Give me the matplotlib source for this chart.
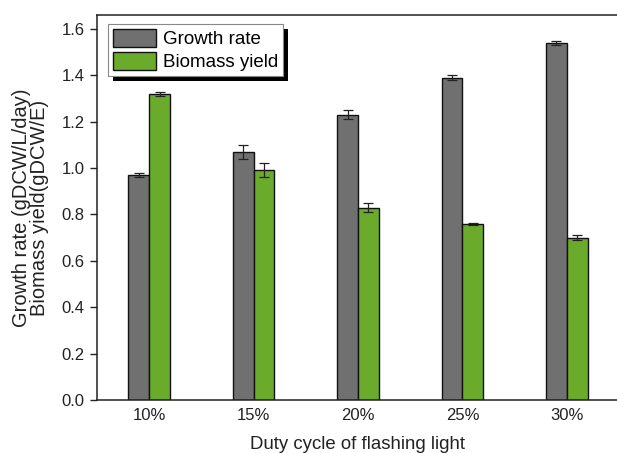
import matplotlib
matplotlib.use('Agg')
import matplotlib.pyplot as plt
import matplotlib.patches as patches
import numpy as np

plt.rcParams['font.family'] = ['Liberation Sans', 'DejaVu Sans']

# --- Data ---
duty_cycles = ['10%', '15%', '20%', '25%', '30%']
growth_rate = [0.97, 1.07, 1.23, 1.39, 1.54]
growth_err = [0.01, 0.03, 0.02, 0.01, 0.01]
biomass_yield = [1.32, 0.99, 0.83, 0.76, 0.70]
biomass_err = [0.01, 0.03, 0.02, 0.005, 0.01]

GRAY = '#707070'
GREEN = '#6aab2b'

fig = plt.figure(figsize=(6.17, 4.53), dpi=100)
ax = fig.add_axes([97 / 617, 1 - 400 / 453, 522 / 617, 385 / 453])

x = np.arange(len(duty_cycles))
w = 0.2
err_kw = dict(ecolor='#222222', elinewidth=0.9, capsize=3.5, capthick=0.9)
ax.bar(x - w / 2, growth_rate, w, yerr=growth_err, color=GRAY,
       edgecolor='#111111', linewidth=1.0, label='Growth rate',
       error_kw=err_kw)
ax.bar(x + w / 2, biomass_yield, w, yerr=biomass_err, color=GREEN,
       edgecolor='#111111', linewidth=1.0, label='Biomass yield',
       error_kw=err_kw)

ax.set_xlim(-0.5, 4.5)
ax.set_ylim(0, 1.66)
ax.set_yticks(np.arange(0, 1.61, 0.2))
ax.set_yticklabels([f'{v:.1f}' for v in np.arange(0, 1.61, 0.2)])
ax.set_xticks(x)
ax.set_xticklabels(duty_cycles)
ax.tick_params(axis='y', direction='out', length=5, width=1.0, labelsize=12,
               pad=4, colors='#222222')
ax.tick_params(axis='x', length=0, labelsize=12, pad=6, colors='#222222')
ax.spines['right'].set_visible(False)
for s in ('left', 'bottom', 'top'):
    ax.spines[s].set_linewidth(1.1)
    ax.spines[s].set_color('#222222')

ax.set_xlabel('Duty cycle of flashing light', fontsize=13.4, labelpad=9,
              color='#222222')
ax.set_ylabel('Growth rate (gDCW/L/day)\nBiomass yield(gDCW/E)', fontsize=14.5,
              color='#222222', linespacing=0.9, labelpad=9)

leg = ax.legend(loc='upper left', bbox_to_anchor=(11 / 522, 1 - 9 / 385),
                fontsize=13.5, frameon=True, fancybox=False, framealpha=1,
                handlelength=2.3, handleheight=1.1, handletextpad=0.4,
                borderpad=0.25, labelspacing=0.2, borderaxespad=0)
leg.get_frame().set_edgecolor('#888888')
leg.get_frame().set_linewidth(0.8)
leg.set_zorder(6)

# black drop shadow behind the legend box
fig.canvas.draw()
bb = leg.get_frame().get_window_extent().transformed(fig.transFigure.inverted())
shadow = patches.Rectangle((bb.x0 + 5 / 617, bb.y0 - 5 / 453), bb.width, bb.height,
                           transform=fig.transFigure, facecolor='black',
                           edgecolor='none', zorder=5, clip_on=False)
ax.add_artist(shadow)

fig.savefig('out.png', dpi=100)
